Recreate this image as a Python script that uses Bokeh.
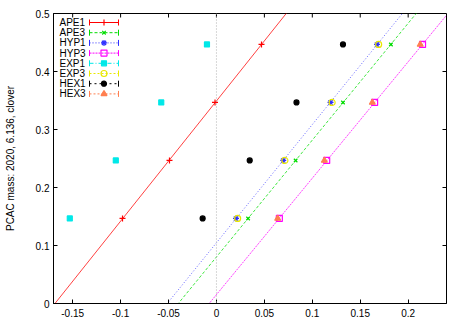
import numpy as np
from bokeh.plotting import figure
from bokeh.models import Range1d, FixedTicker, Span
from bokeh.core.properties import value
from bokeh.embed import file_html
from bokeh.resources import INLINE

# ---------------- data ----------------
y_mass = [0.1466, 0.2466, 0.3466, 0.4466]

ape1_x = [-0.098, -0.049, -0.0015, 0.047]
ape3_x = [0.033, 0.0826, 0.132, 0.182]
hyp1_x = [0.0204, 0.0697, 0.119, 0.1675]
hyp3_x = [0.0656, 0.115, 0.165, 0.215]
exp1_x = [-0.153, -0.105, -0.0576, -0.0099]
exp3_x = [0.0221, 0.0714, 0.1207, 0.1692]
hex1_x = [-0.0144, 0.0347, 0.0835, 0.132]
hex3_x = [0.0639, 0.1126, 0.1626, 0.2126]

series_names = ["APE1", "APE3", "HYP1", "HYP3", "EXP1", "EXP3", "HEX1", "HEX3"]
fitted = ["APE1", "APE3", "HYP1", "HYP3"]

x_ticks = [-0.15, -0.1, -0.05, 0, 0.05, 0.1, 0.15, 0.2]
x_tick_labels = ["-0.15", "-0.1", "-0.05", "0", "0.05", "0.1", "0.15", "0.2"]
y_ticks = [0, 0.1, 0.2, 0.3, 0.4, 0.5]
y_tick_labels = ["0", "0.1", "0.2", "0.3", "0.4", "0.5"]

x_lim = (-0.17, 0.24)
y_lim = (0.0, 0.5)
y_title = "PCAC mass: 2020, 6.136, clover"

# ---------------- styles ----------------
FONT = "Liberation Sans"
styles = {
    "APE1": dict(color="#ff0000", marker="cross", size=6, fill=True, dash="solid"),
    "APE3": dict(color="#00dd00", marker="x", size=5, fill=True, dash="3 2"),
    "HYP1": dict(color="#3030ff", marker="asterisk", size=6, fill=True, dash="1 2"),
    "HYP3": dict(color="#ff00ff", marker="square", size=6, fill=False, dash="2 1"),
    "EXP1": dict(color="#00e8e8", marker="square", size=5, fill=True, dash="4 2 1 2"),
    "EXP3": dict(color="#e8e800", marker="circle", size=6, fill=False, dash="2 2"),
    "HEX1": dict(color="#000000", marker="circle", size=5, fill=True, dash="2 3"),
    "HEX3": dict(color="#ff7f50", marker="triangle", size=6, fill=True, dash="2 2"),
}
xs = {"APE1": ape1_x, "APE3": ape3_x, "HYP1": hyp1_x, "HYP3": hyp3_x,
      "EXP1": exp1_x, "EXP3": exp3_x, "HEX1": hex1_x, "HEX3": hex3_x}

W, H = 463, 324
BL, BT, BR, BB = 53, 13, 17, 21
FW, FH = W - BL - BR, H - BT - BB
TICK = 4

p = figure(width=W, height=H, output_backend="svg", toolbar_location=None,
           x_range=Range1d(*x_lim), y_range=Range1d(*y_lim),
           min_border_left=BL, min_border_top=BT, min_border_right=BR, min_border_bottom=BB)
p.background_fill_color = "white"
p.border_fill_color = "white"
p.outline_line_color = "black"
p.outline_line_width = 1
p.xgrid.visible = False
p.ygrid.visible = False

# axes
for ax, ticks, labels in ((p.xaxis[0], x_ticks, x_tick_labels), (p.yaxis[0], y_ticks, y_tick_labels)):
    ax.ticker = FixedTicker(ticks=ticks)
    ax.major_label_overrides = {t: l for t, l in zip(ticks, labels)}
    ax.major_tick_in = TICK
    ax.major_tick_out = 0
    ax.minor_tick_line_color = None
    ax.axis_line_color = "black"
    ax.major_tick_line_color = "black"
    ax.major_label_text_font = FONT
    ax.major_label_text_font_size = "10px"
    ax.major_label_text_color = "black"
p.xaxis[0].major_label_standoff = 5
p.yaxis[0].major_label_standoff = 4
p.yaxis[0].axis_label = y_title
p.yaxis[0].axis_label_text_font = FONT
p.yaxis[0].axis_label_text_font_size = "10px"
p.yaxis[0].axis_label_text_font_style = "normal"
p.yaxis[0].axis_label_text_color = "black"
p.yaxis[0].axis_label_standoff = 17

# frame-pixel ranges (for mirrored ticks and legend layout)
p.extra_x_ranges = {"lx": Range1d(0, FW)}
p.extra_y_ranges = {"ly": Range1d(FH, 0)}

# mirrored ticks on top and right
nx, ny = len(x_ticks), len(y_ticks)
p.segment(x_ticks, [0] * nx, x_ticks, [TICK] * nx, line_color="black", line_width=1,
          y_range_name="ly")
p.segment([FW] * ny, y_ticks, [FW - TICK] * ny, y_ticks, line_color="black", line_width=1,
          x_range_name="lx")

# zero line
p.add_layout(Span(location=0, dimension="height", line_color="#b0b0b0",
                  line_dash="1 2", line_width=1))

# fit lines
for name in fitted:
    st = styles[name]
    slope, icpt = np.polyfit(xs[name], y_mass, 1)
    lx = np.array(x_lim)
    p.line(lx, icpt + slope * lx, line_color=st["color"], line_width=1,
           line_dash=st["dash"], line_alpha=0.75)

# data points
def draw_marker(x, y, st, **kw):
    p.scatter(x, y, marker=st["marker"], size=st["size"], line_color=st["color"],
              fill_color=st["color"] if st["fill"] else None, line_width=1.2, **kw)

for name in series_names:
    draw_marker(xs[name], y_mass, styles[name])

# legend (label left, error-bar sample right), frame pixel coordinates
LEG_TX, LEG_Y0, LEG_DY = 6, 9, 10.2
LEG_L0, LEG_L1, LEG_CAP = 36, 65, 3
lk = dict(x_range_name="lx", y_range_name="ly")
for i, name in enumerate(series_names):
    st = styles[name]
    yy = LEG_Y0 + LEG_DY * i
    p.text([LEG_TX], [yy], text=[name], text_font=value(FONT), text_font_size="10px",
           text_baseline="middle", text_align="left", text_color="black", **lk)
    p.line([LEG_L0, LEG_L1], [yy, yy], line_color=st["color"], line_width=1,
           line_dash=st["dash"], **lk)
    p.segment([LEG_L0, LEG_L1], [yy - LEG_CAP] * 2, [LEG_L0, LEG_L1], [yy + LEG_CAP] * 2,
              line_color=st["color"], line_width=1, **lk)
    draw_marker([(LEG_L0 + LEG_L1) / 2], [yy], st, **lk)

open("out.html", "w").write(file_html(p, INLINE))
